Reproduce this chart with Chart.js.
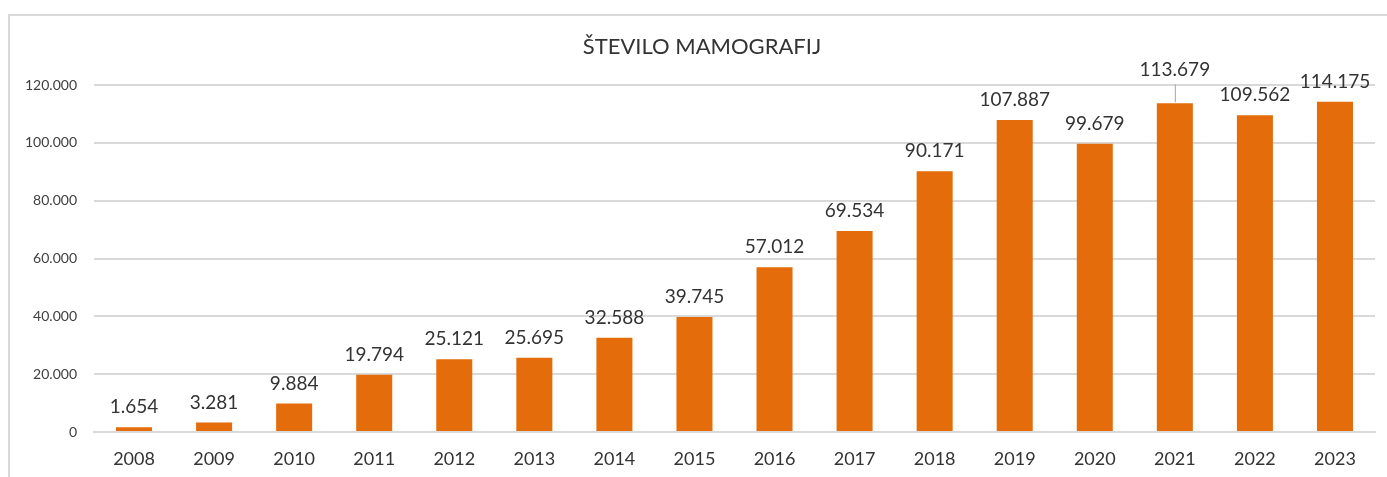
<!DOCTYPE html>
<html>
<head>
<meta charset="utf-8">
<script src="https://cdn.jsdelivr.net/npm/chart.js@4"></script>
<style>
  body { margin: 0; background: #fff; }
  #frame { position: absolute; left: 8px; top: 14px; width: 1400px; height: 500px;
           border-top: 2px solid #d9d9d9; border-left: 2px solid #d9d9d9; }
  #wrap { position: absolute; left: 0; top: 0; width: 1387px; height: 477px; }
</style>
</head>
<body>
<div id="frame"></div>
<div id="wrap"><canvas id="mamoChart"></canvas></div>
<script>
let chartTitle = 'ŠTEVILO MAMOGRAFIJ';
let years = ['2008','2009','2010','2011','2012','2013','2014','2015','2016','2017','2018','2019','2020','2021','2022','2023'];
let mamografije = [1654, 3281, 9884, 19794, 25121, 25695, 32588, 39745, 57012, 69534, 90171, 107887, 99679, 113679, 109562, 114175];
let yTicks = [0, 20000, 40000, 60000, 80000, 100000, 120000];

function fmt(v) {
  return String(v).replace(/\B(?=(\d{3})+(?!\d))/g, '.');
}

// title is centred on the outer frame, not on the canvas
let frameTitle = {
  id: 'frameTitle',
  afterDraw(chart) {
    let ctx = chart.ctx;
    ctx.save();
    ctx.font = '22px Lato';
    ctx.fillStyle = '#333333';
    ctx.textAlign = 'center';
    ctx.textBaseline = 'middle';
    ctx.fillText(chartTitle, 702, 47);
    ctx.restore();
  }
};

// data labels above the bars, 2021 one is lifted with a small leader line
let barLabels = {
  id: 'barLabels',
  afterDatasetsDraw(chart) {
    let ctx = chart.ctx;
    let meta = chart.getDatasetMeta(0);
    ctx.save();
    ctx.font = '19px Lato';
    ctx.fillStyle = '#333333';
    ctx.textAlign = 'center';
    ctx.textBaseline = 'middle';
    meta.data.forEach((bar, i) => {
      let off = 20;
      if (i === 13) {
        off = 33;
        ctx.strokeStyle = '#a6a6a6';
        ctx.lineWidth = 1;
        ctx.beginPath();
        ctx.moveTo(bar.x + 0.5, bar.y - 1);
        ctx.lineTo(bar.x + 0.5, bar.y - 19);
        ctx.stroke();
      }
      ctx.fillText(fmt(mamografije[i]), bar.x, bar.y - off);
    });
    ctx.restore();
  }
};

let ctx = document.getElementById('mamoChart').getContext('2d');
let chart = new Chart(ctx, {
  type: 'bar',
  data: {
    labels: years,
    datasets: [{
      label: 'Število mamografij',
      data: mamografije,
      backgroundColor: '#E46C0A',
      borderWidth: 0,
      categoryPercentage: 1,
      barPercentage: 0.45,
    }]
  },
  options: {
    responsive: true,
    maintainAspectRatio: false,
    animation: false,
    layout: { padding: { left: 0, right: 12, top: 85, bottom: 0 } },
    plugins: {
      legend: { display: false },
      tooltip: { enabled: false },
      title: { display: false },
    },
    scales: {
      x: {
        grid: { display: false, drawTicks: false },
        border: { display: true, color: '#d9d9d9', width: 2 },
        ticks: {
          color: '#333333',
          font: { family: 'Lato', size: 18 },
          padding: 16,
          maxRotation: 0,
        },
        afterFit(scale) { scale.height = 45; },
      },
      y: {
        min: 0,
        max: 120000,
        afterBuildTicks(scale) { scale.ticks = yTicks.map(v => ({ value: v })); },
        grid: { color: '#d9d9d9', lineWidth: 2, drawTicks: false },
        border: { display: false },
        ticks: {
          color: '#404040',
          font: { family: 'Lato', size: 14 },
          padding: 17,
          callback: v => fmt(v),
        },
        afterFit(scale) { scale.width = 94; },
      },
    },
  },
  plugins: [barLabels, frameTitle],
});
</script>
</body>
</html>
